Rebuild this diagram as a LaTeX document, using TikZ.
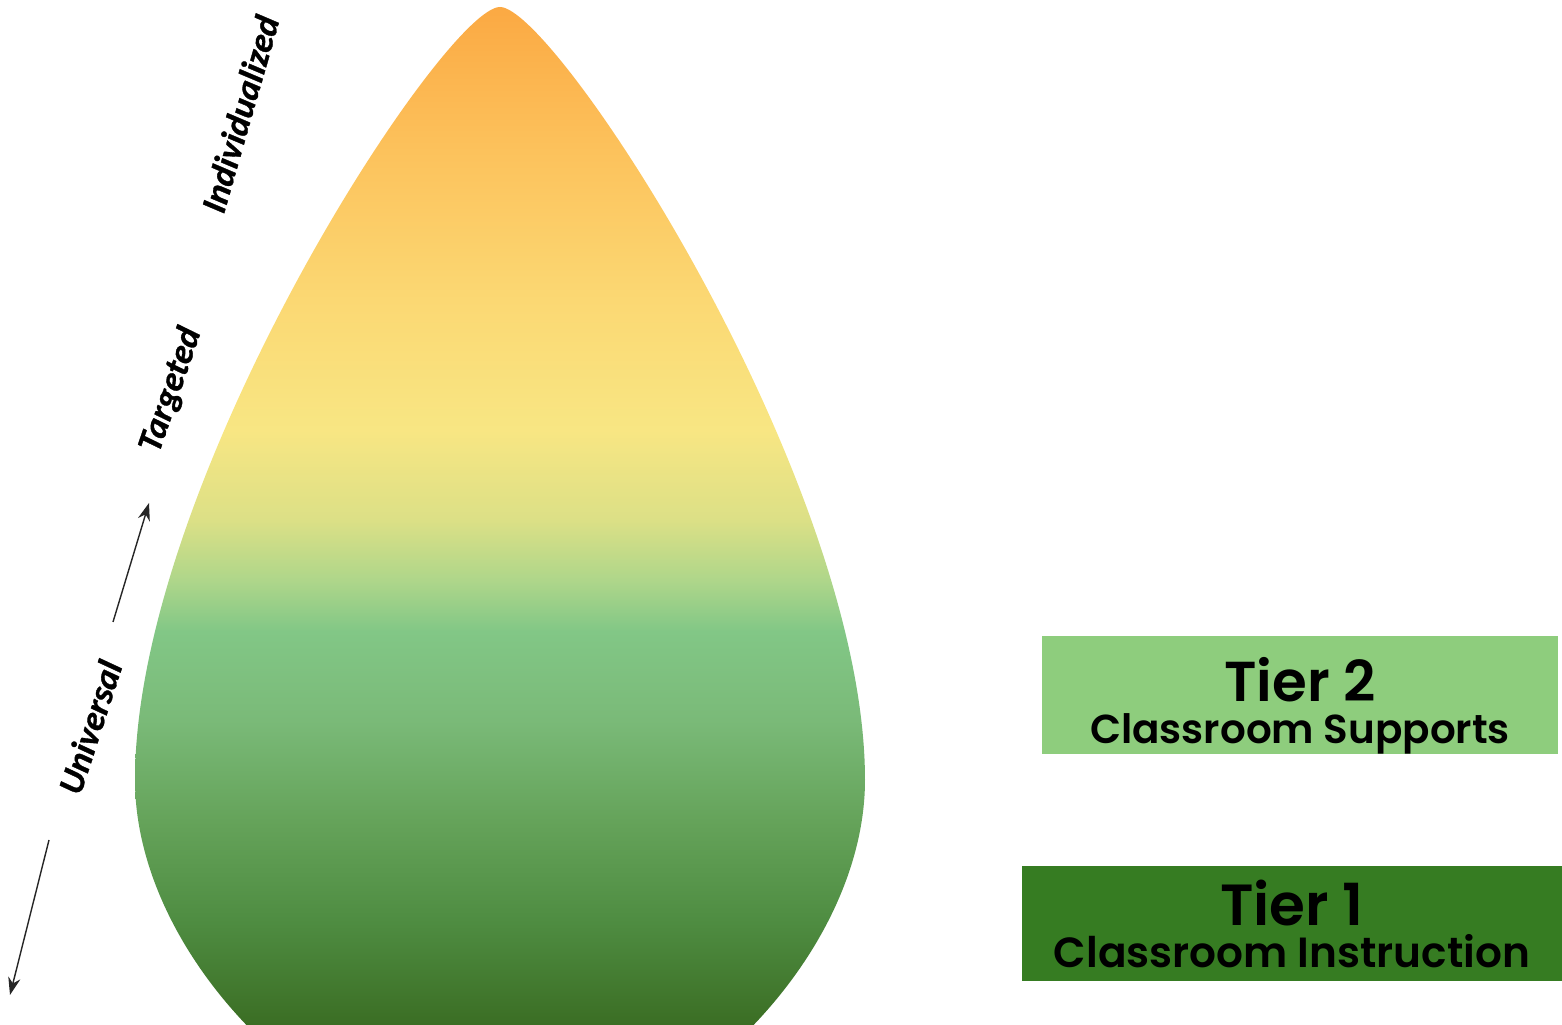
\documentclass[tikz,border=0pt]{standalone}
\usepackage{fontspec}
\setmainfont{Carlito}
\newfontfamily\lvlfont{Carlito}[BoldItalicFeatures={FakeBold=1}]
\newfontfamily\tierfont{Poppins SemiBold}
\usetikzlibrary{arrows.meta,positioning}

\definecolor{dropA}{HTML}{FBA943}
\definecolor{dropB}{HTML}{FCC25C}
\definecolor{dropC}{HTML}{FBD873}
\definecolor{dropD}{HTML}{F8E683}
\definecolor{dropE}{HTML}{DCE086}
\definecolor{dropF}{HTML}{AED68A}
\definecolor{dropG}{HTML}{82C786}
\definecolor{dropH}{HTML}{7ABA78}
\definecolor{dropI}{HTML}{65A35A}
\definecolor{dropJ}{HTML}{4F8D42}
\definecolor{dropK}{HTML}{3B6E24}
\definecolor{tiertwo}{HTML}{8ECD7D}
\definecolor{tierone}{HTML}{367C22}

\pgfdeclareverticalshading{dropshade}{100bp}{color(0bp)=(dropK); color(25bp)=(dropK);
  color(30.5bp)=(dropK); color(35.1bp)=(dropJ); color(39.4bp)=(dropI); color(43.8bp)=(dropH);
  color(47.7bp)=(dropG); color(49.9bp)=(dropF); color(52.6bp)=(dropE); color(56.5bp)=(dropD);
  color(62.2bp)=(dropC); color(68.7bp)=(dropB); color(75bp)=(dropA); color(100bp)=(dropA)}

\begin{document}
\begin{tikzpicture}[x=0.01cm, y=-0.01cm,
  lvl/.style={font=\lvlfont\bfseries\itshape\fontsize{10}{12}\selectfont, inner sep=0pt},
  tier/.style={rectangle, inner sep=0pt, align=center, font=\tierfont},
  arrow/.style={-{Stealth[length=5pt,width=3.5pt]}, thin, black!85}
]
  \useasboundingbox (0,0) rectangle (1562,1025);

  \begin{scope}
    \clip (0,0) rectangle (1562,1025);
    \shade[shading=dropshade] (500,7) .. controls (445,7) and (135,480) .. (135,780)
      .. controls (135,960) and (330,1150) .. (500,1150)
      .. controls (670,1150) and (865,960) .. (865,780)
      .. controls (865,480) and (555,7) .. (500,7) -- cycle;
  \end{scope}

  \node[lvl, rotate=74] (indiv) at (240,114) {Individualized};
  \node[lvl, rotate=71] (target) at (171,390) {Targeted};
  \node[lvl, rotate=72] (univ) at (90,727) {Universal};

  \coordinate (upS) at (113,622);
  \coordinate (upE) at (149,503);
  \coordinate (lowS) at (49,840);
  \coordinate (lowE) at (10,995);
  \draw[arrow] (upS) -- (upE);
  \draw[arrow] (lowS) -- (lowE);

  \node[tier, fill=tiertwo, minimum width=5.16cm, minimum height=1.14cm] (tier2) at (1300,695)
    {{\fontsize{16}{12.4}\selectfont\rule{0pt}{18.6pt}Tier 2}\\{\fontsize{11.5}{12.4}\selectfont Classroom Supports}};
  \node[tier, fill=tierone, minimum width=5.4cm, minimum height=1.15cm] (tier1) at (1292,923.5)
    {{\fontsize{16.5}{14.4}\selectfont\rule{0pt}{13.4pt}Tier 1}\\{\fontsize{12}{14.4}\selectfont Classroom Instruction}};
\end{tikzpicture}
\end{document}
